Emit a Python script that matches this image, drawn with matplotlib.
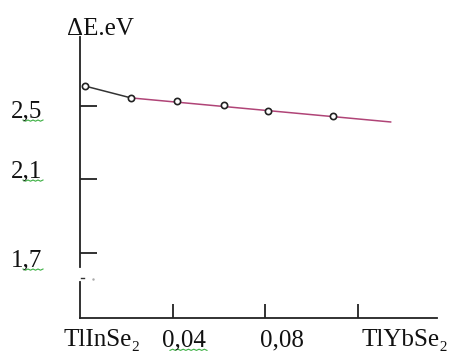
import matplotlib
matplotlib.use("Agg")
import matplotlib.pyplot as plt
import numpy as np

plt.rcParams['font.family'] = ['Liberation Serif', 'DejaVu Serif']

# composition x and band gap (eV)
x_pts = [0.002, 0.022, 0.042, 0.062, 0.081, 0.109]
dE_pts = [2.609, 2.544, 2.527, 2.505, 2.473, 2.446]
# straight fit drawn from the 2nd point onward
fit_x = [0.022, 0.134]
fit_y = [2.544, 2.413]

y_ticks = [2.5, 2.1, 1.7]
y_labels = ['2,5', '2,1', '1,7']
x_ticks = [0.0, 0.04, 0.08, 0.12]
x_labels = ['TlInSe₂', '0,04', '0,08', 'TlYbSe₂']

W, H = 457, 351
fig = plt.figure(figsize=(W / 100, H / 100), dpi=100)
ax = fig.add_axes([80 / W, (H - 318) / H, (437 - 80) / W, (318 - 37) / H])
ax.set_xlim(0, 0.154)
ax.set_ylim(1.346, 2.8755)

for s in ['top', 'right']:
    ax.spines[s].set_visible(False)
for s in ['left', 'bottom']:
    ax.spines[s].set_linewidth(1.3)
    ax.spines[s].set_color('#222222')
# broken y axis
ax.spines['left'].set_bounds(1.624, 2.8755)
ax.plot([0, 0], [1.346, 1.542], color='#222222', lw=1.3, clip_on=False)
ax.plot([0.0005, 0.0018], [1.562, 1.562], color='#333333', lw=1.0, clip_on=False)
ax.plot([0.0055], [1.559], marker='.', ms=1.5, color='#aaaaaa', clip_on=False)

ax.set_yticks(y_ticks)
ax.set_xticks(x_ticks[1:])
ax.tick_params(axis='both', direction='in', colors='#222222', width=1.3,
               labelleft=False, labelbottom=False)
ax.tick_params(axis='y', length=12.2)
ax.tick_params(axis='x', length=10)

ax.plot(x_pts[:2], dE_pts[:2], color='#333333', lw=1.1, zorder=2)
ax.plot(fit_x, fit_y, color='#b04477', lw=1.1, zorder=2)
ax.plot(x_pts, dE_pts, ls='none', marker='o', ms=4.5, mfc='white',
        mec='#222222', mew=1.2, zorder=3)

fs = 18
# y tick labels with the green spell-check squiggle under them
y_pix = [117, 177, 266]
for lab, py in zip(y_labels, y_pix):
    fx = 42 / W
    fy = (H - py) / H
    fig.text(fx, fy, lab, fontsize=fs, ha='right', va='baseline', color='#111111')
    sx = np.linspace(23, 43, 9) / W
    sy = (H - py - 3 - 1.2 * (np.arange(9) % 2)) / H
    fig.add_artist(plt.Line2D(sx, sy, color='#3cb043', lw=0.8))

# x tick labels, offset like the source
x_pix = [63, 162, 260, 362]
for lab, px in zip(x_labels, x_pix):
    fig.text(px / W, (H - 346) / H, lab, fontsize=fs, ha='left', va='baseline',
             color='#111111')
sx = np.linspace(170, 207, 15) / W
sy = (H - 351 + 0.6 + 1.2 * (np.arange(15) % 2)) / H
fig.add_artist(plt.Line2D(sx, sy, color='#3cb043', lw=0.8))

fig.text(67 / W, (H - 35) / H, 'ΔE.eV', fontsize=fs, ha='left', va='baseline',
         color='#111111')

fig.savefig('out.png', dpi=100)
